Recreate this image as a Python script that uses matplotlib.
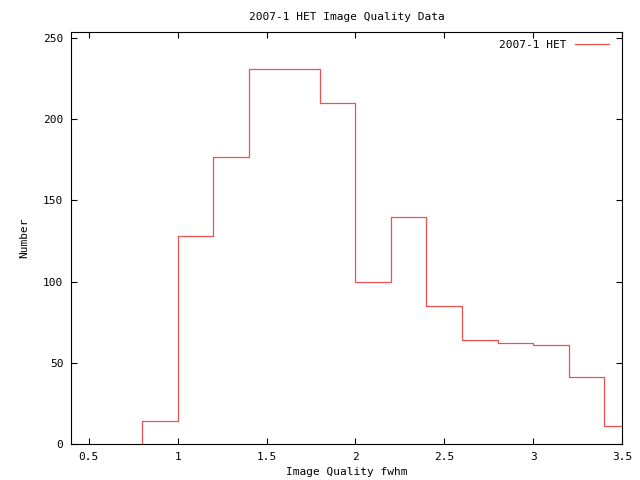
#!/usr/bin/env python3
"""2007-1 HET image quality histogram, gnuplot style."""

import matplotlib
matplotlib.use("Agg")
import matplotlib.pyplot as plt
import numpy as np

# bin left edges (fwhm) and counts
bin_edges = [0.8, 1.0, 1.2, 1.4, 1.6, 1.8, 2.0, 2.2, 2.4, 2.6, 2.8, 3.0, 3.2, 3.4, 3.5]
counts = [14, 128, 177, 231, 231, 210, 100, 140, 85, 64, 62, 61, 41, 11]

x_ticks = [0.5, 1, 1.5, 2, 2.5, 3, 3.5]
x_tick_labels = ["0.5", "1", "1.5", "2", "2.5", "3", "3.5"]
y_ticks = [0, 50, 100, 150, 200, 250]

plt.rcParams["font.family"] = ["DejaVu Sans Mono"]
plt.rcParams["font.size"] = 8

fig = plt.figure(figsize=(6.4, 4.8), dpi=100)
ax = fig.add_axes([71 / 640, 36 / 480, 551 / 640, 412 / 480])

xs = np.repeat(bin_edges, 2)[1:-1]
ys = np.repeat(counts, 2)
xs = np.concatenate([[bin_edges[0]], xs])
ys = np.concatenate([[0], ys])
ax.plot(xs, ys, color="#f05050", linewidth=0.9, label="2007-1 HET")

ax.set_xlim(0.4, 3.5)
ax.set_ylim(0, 253.7)
ax.set_xticks(x_ticks)
ax.set_xticklabels(x_tick_labels)
ax.set_yticks(y_ticks)
ax.tick_params(direction="in", length=4.3, width=0.8, top=True, right=True, pad=5.5)
for spine in ax.spines.values():
    spine.set_linewidth(0.8)

ax.set_title("2007-1 HET Image Quality Data", fontsize=8, pad=8.5)
ax.set_xlabel("Image Quality fwhm", labelpad=4)
ax.set_ylabel("Number", labelpad=10)

ax.legend(loc="upper right", frameon=False, markerfirst=False, handlelength=3.0,
          handletextpad=0.8, borderaxespad=0.3, bbox_to_anchor=(0.99, 1.0))

fig.savefig("out.png", dpi=100)
plt.close(fig)
